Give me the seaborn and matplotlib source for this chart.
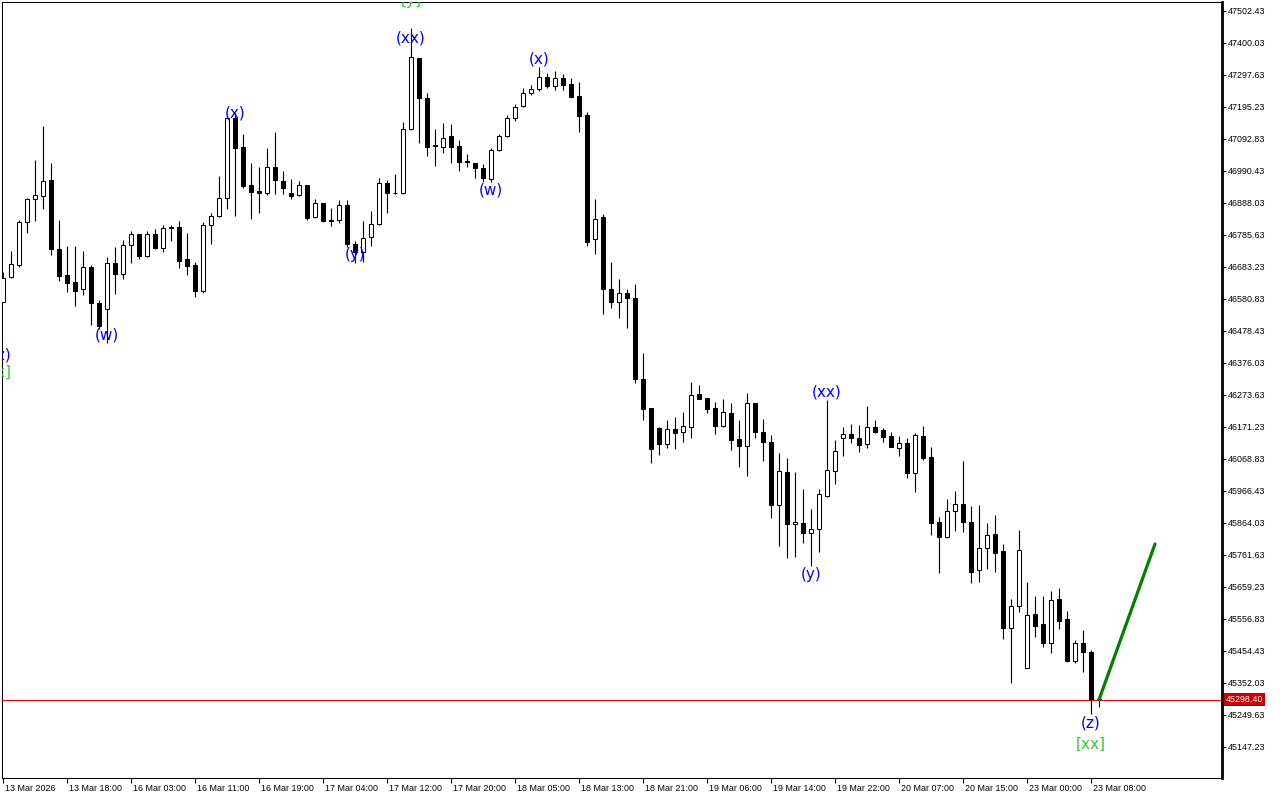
import numpy as np
import matplotlib
matplotlib.use("Agg")
import matplotlib.pyplot as plt
import matplotlib.transforms as mtransforms
import seaborn as sns

# Hourly candles, 13 Mar 10:00 -> 23 Mar 09:00
opens = [46571.2, 46651.2, 46689.6, 46827.2, 46900.8, 46910.4, 46961.6, 46740.8, 46657.6, 46635.2,
         46612.8, 46683.2, 46568.0, 46548.8, 46696.0, 46660.8, 46753.6, 46788.8, 46718.4, 46788.8,
         46744.0, 46811.2, 46811.2, 46708.8, 46689.6, 46606.4, 46817.6, 46846.4, 46904.0, 47160.0,
         47067.2, 46945.6, 46926.4, 46920.0, 47003.2, 46958.4, 46920.0, 46913.6, 46945.6, 46843.2,
         46888.0, 46833.6, 46833.6, 46881.6, 46756.8, 46731.2, 46779.2, 46820.8, 46952.0, 46918.4,
         46920.0, 47124.8, 47352.0, 47224.0, 47073.6, 47067.2, 47102.4, 47070.4, 47022.4, 47016.0,
         47000.0, 46964.8, 47057.6, 47102.4, 47160.0, 47198.4, 47240.0, 47252.8, 47291.2, 47262.4,
         47288.0, 47268.8, 47230.4, 47169.6, 46772.8, 46843.2, 46612.8, 46571.2, 46600.0, 46584.0,
         46324.8, 46232.0, 46168.0, 46116.8, 46164.8, 46155.2, 46171.2, 46276.8, 46264.0, 46232.0,
         46174.4, 46216.0, 46132.8, 46110.4, 46248.0, 46155.2, 46123.2, 45921.6, 46027.2, 45860.8,
         45864.0, 45832.0, 45844.8, 45950.4, 46030.4, 46136.0, 46148.8, 46136.0, 46116.8, 46171.2,
         46161.6, 46142.4, 46104.0, 46120.0, 46024.0, 46142.4, 46075.2, 45867.2, 45819.2, 45902.4,
         45924.8, 45867.2, 45713.6, 45784.0, 45828.8, 45774.4, 45528.0, 45598.4, 45400.0, 45572.8,
         45540.8, 45480.0, 45620.8, 45556.8, 45422.4, 45480.0, 45451.2, 45300.0]
highs = [46667.2, 46734.4, 46833.6, 46904.0, 47025.6, 47134.4, 47016.0, 46833.6, 46750.4, 46750.4,
         46734.4, 46689.6, 46577.6, 46715.2, 46747.2, 46769.6, 46798.4, 46788.8, 46798.4, 46804.8,
         46817.6, 46817.6, 46830.4, 46792.0, 46699.2, 46827.2, 46856.0, 46974.4, 47169.6, 47176.0,
         47108.8, 47016.0, 47003.2, 47064.0, 47115.2, 46990.4, 46964.8, 46958.4, 46945.6, 46900.8,
         46888.0, 46872.0, 46897.6, 46897.6, 46766.4, 46830.4, 46862.4, 46968.0, 46961.6, 46980.8,
         47147.2, 47448.0, 47352.0, 47240.0, 47124.8, 47144.0, 47140.8, 47089.6, 47044.8, 47016.0,
         47012.8, 47064.0, 47108.8, 47169.6, 47204.8, 47256.0, 47265.6, 47323.2, 47304.0, 47310.4,
         47300.8, 47288.0, 47275.2, 47179.2, 46900.8, 46852.8, 46699.2, 46644.8, 46612.8, 46628.8,
         46408.0, 46232.0, 46171.2, 46193.6, 46203.2, 46219.2, 46315.2, 46305.6, 46264.0, 46251.2,
         46260.8, 46248.0, 46193.6, 46280.0, 46248.0, 46196.8, 46145.6, 46088.0, 46072.0, 46027.2,
         45972.8, 45908.8, 45972.8, 46257.6, 46129.6, 46171.2, 46180.8, 46177.6, 46238.4, 46193.6,
         46168.0, 46155.2, 46142.4, 46136.0, 46152.0, 46174.4, 46107.2, 45883.2, 45940.8, 45966.4,
         46062.4, 45918.4, 45921.6, 45864.0, 45889.6, 45796.8, 45620.8, 45841.6, 45675.2, 45630.4,
         45630.4, 45646.4, 45656.0, 45582.4, 45489.6, 45521.6, 45457.6, 45304.0]
lows = [46571.2, 46648.0, 46683.2, 46792.0, 46830.4, 46868.8, 46721.6, 46638.4, 46603.2, 46558.4,
        46593.6, 46497.6, 46484.8, 46440.0, 46596.8, 46644.8, 46696.0, 46708.8, 46715.2, 46740.8,
        46731.2, 46766.4, 46680.0, 46657.6, 46587.2, 46600.0, 46756.8, 46843.2, 46868.8, 46846.4,
        46936.0, 46836.8, 46856.0, 46913.6, 46916.8, 46916.8, 46900.8, 46910.4, 46833.6, 46840.0,
        46827.2, 46814.4, 46824.0, 46747.2, 46696.0, 46699.2, 46750.4, 46817.6, 46856.0, 46916.8,
        46916.8, 47121.6, 47080.0, 47038.4, 47006.4, 47048.0, 47016.0, 46990.4, 47003.2, 46968.0,
        46955.2, 46955.2, 47054.4, 47099.2, 47150.4, 47195.2, 47233.6, 47246.4, 47256.0, 47249.6,
        47249.6, 47224.0, 47115.2, 46750.4, 46724.8, 46532.8, 46552.0, 46520.0, 46488.0, 46312.0,
        46193.6, 46056.0, 46081.6, 46104.0, 46100.8, 46123.2, 46136.0, 46260.8, 46216.0, 46148.8,
        46171.2, 46097.6, 46043.2, 46014.4, 46136.0, 46062.4, 45880.0, 45790.4, 45752.0, 45755.2,
        45800.0, 45726.4, 45771.2, 45947.2, 45988.8, 46078.4, 46120.0, 46091.2, 46104.0, 46152.0,
        46123.2, 46107.2, 46078.4, 46008.0, 45963.2, 46065.6, 45825.6, 45704.0, 45816.0, 45838.4,
        45835.2, 45672.0, 45675.2, 45716.8, 45707.2, 45492.8, 45352.0, 45579.2, 45400.0, 45499.2,
        45467.2, 45448.0, 45524.8, 45419.2, 45416.0, 45387.2, 45252.8, 45275.2]
closes = [46648.0, 46692.8, 46827.2, 46900.8, 46913.6, 46958.4, 46740.8, 46654.4, 46632.0, 46606.4,
          46683.2, 46568.0, 46494.4, 46696.0, 46660.8, 46753.6, 46788.8, 46718.4, 46788.8, 46744.0,
          46808.0, 46808.0, 46702.4, 46686.4, 46606.4, 46817.6, 46846.4, 46904.0, 47160.0, 47064.0,
          46942.4, 46923.2, 46920.0, 47003.2, 46961.6, 46936.0, 46910.4, 46945.6, 46840.0, 46888.0,
          46830.4, 46830.4, 46881.6, 46756.8, 46731.2, 46776.0, 46820.8, 46952.0, 46920.0, 46920.0,
          47124.8, 47355.2, 47224.0, 47067.2, 47070.4, 47096.0, 47067.2, 47019.2, 47019.2, 47000.0,
          46968.0, 47057.6, 47102.4, 47160.0, 47195.2, 47240.0, 47252.8, 47291.2, 47262.4, 47288.0,
          47265.6, 47227.2, 47166.4, 46763.2, 46836.8, 46612.8, 46571.2, 46600.0, 46584.0, 46324.8,
          46228.8, 46100.8, 46116.8, 46164.8, 46152.0, 46174.4, 46273.6, 46260.8, 46228.8, 46174.4,
          46219.2, 46129.6, 46110.4, 46248.0, 46155.2, 46123.2, 45921.6, 46030.4, 45860.8, 45867.2,
          45832.0, 45844.8, 45956.8, 46033.6, 46094.4, 46148.8, 46136.0, 46113.6, 46171.2, 46155.2,
          46139.2, 46107.2, 46120.0, 46024.0, 46145.6, 46072.0, 45864.0, 45819.2, 45902.4, 45924.8,
          45867.2, 45707.2, 45784.0, 45825.6, 45768.0, 45528.0, 45598.4, 45777.6, 45569.6, 45534.4,
          45480.0, 45617.6, 45550.4, 45422.4, 45480.0, 45451.2, 45298.4, 45298.4]

time_labels = ['13 Mar 2026', '13 Mar 18:00', '16 Mar 03:00', '16 Mar 11:00', '16 Mar 19:00',
               '17 Mar 04:00', '17 Mar 12:00', '17 Mar 20:00', '18 Mar 05:00', '18 Mar 13:00',
               '18 Mar 21:00', '19 Mar 06:00', '19 Mar 14:00', '19 Mar 22:00', '20 Mar 07:00',
               '20 Mar 15:00', '23 Mar 00:00', '23 Mar 08:00']
price_ticks = [47502.43, 47400.03, 47297.63, 47195.23, 47092.83, 46990.43, 46888.03, 46785.63,
               46683.23, 46580.83, 46478.43, 46376.03, 46273.63, 46171.23, 46068.83, 45966.43,
               45864.03, 45761.63, 45659.23, 45556.83, 45454.43, 45352.03, 45249.63, 45147.23]
last_price = 45298.40

# wave labels (candle index, price, text)
wave_idx = [-0.2, 13, 29, 44, 51, 61, 67, 101, 103, 136]
wave_price = [46401.6, 46465.6, 47176.0, 46721.6, 47416.0, 46929.6, 47348.8, 45697.6, 46283.2, 45224.0]
wave_text = ['(z)', '(w)', '(x)', '(y)', '(xx)', '(w)', '(x)', '(y)', '(xx)', '(z)']
major_idx = [-0.2, 51, 136]
major_price = [46347.2, 47534.4, 45156.8]
major_text = ['[x]', '[y]', '[xx]']

# projection line
proj_idx = [137, 144]
proj_price = [45298.4, 45796.8]

sns.set_style("white")
plt.rcParams['font.family'] = ['DejaVu Sans']

fig = plt.figure(figsize=(12.8, 8), dpi=100)
ax = fig.add_axes([2 / 1280, 22 / 800, 1220 / 1280, 776 / 800])
ax.set_facecolor('white')

o = np.array(opens)
c = np.array(closes)
h = np.array(highs)
l = np.array(lows)
idx = np.arange(len(o))
up = c >= o
body_lo = np.minimum(o, c)
body_h = np.maximum(np.abs(c - o), 3.0)

ax.vlines(idx, l, h, color='black', lw=0.8, zorder=2)
ax.bar(idx, body_h, bottom=body_lo, width=0.5,
       color=np.where(up, 'white', 'black'), edgecolor='black', linewidth=0.75, zorder=3)

ax.axhline(last_price, color='#e00000', lw=0.8, zorder=4)
sns.lineplot(x=proj_idx, y=proj_price, color='#008000', lw=2.3, ax=ax, zorder=5)

# labels at the chart edges are cut by the plot frame, as in the terminal
for i, p, t in zip(wave_idx, wave_price, wave_text):
    ax.text(i, p, t, color='#0000ff', fontsize=11, ha='center', va='center',
            clip_on=True, zorder=6)
for i, p, t in zip(major_idx, major_price, major_text):
    ax.text(i, p, t, color='#32cd32', fontsize=11, ha='center', va='center',
            clip_on=True, zorder=6)

ax.set_xlim(-0.125, 152.375)
ax.set_ylim(45048.0, 47531.2)

# axes styling
for side in ['left', 'top', 'bottom']:
    ax.spines[side].set_color('black')
    ax.spines[side].set_linewidth(0.75)
ax.spines['right'].set_color('black')
ax.spines['right'].set_linewidth(2.0)

ax.yaxis.tick_right()
ax.set_yticks(price_ticks)
ax.set_yticklabels([f'{v:.2f}' for v in price_ticks])
ax.set_xticks(np.arange(len(time_labels)) * 8)
ax.set_xticklabels(time_labels, ha='left')
ax.tick_params(axis='y', which='both', right=True, left=False, direction='out',
               length=3, width=0.75, pad=1.5, labelsize=6.4, colors='black')
ax.tick_params(axis='x', which='both', bottom=True, direction='out',
               length=3.6, width=0.75, pad=1, labelsize=6.4, colors='black')
for lab in ax.get_xticklabels() + ax.get_yticklabels():
    lab.set_family('Liberation Sans')
shift = mtransforms.ScaledTranslation(2 / 100, 0, fig.dpi_scale_trans)
for lab in ax.get_xticklabels():
    lab.set_transform(lab.get_transform() + shift)
ax.set_xlabel('')
ax.set_ylabel('')
ax.grid(False)

# current price tag on the price scale
tag_tr = mtransforms.blended_transform_factory(ax.transAxes, ax.transData)
ax.text(1.0, last_price, f'{last_price:.2f}', transform=tag_tr + mtransforms.ScaledTranslation(4 / 100, 0, fig.dpi_scale_trans),
        color='white', fontsize=6.4, family='Liberation Sans', ha='left', va='center', clip_on=False,
        bbox=dict(boxstyle='square,pad=0.2', fc='#c80000', ec='none'), zorder=7)

fig.savefig('out.png', dpi=100)
